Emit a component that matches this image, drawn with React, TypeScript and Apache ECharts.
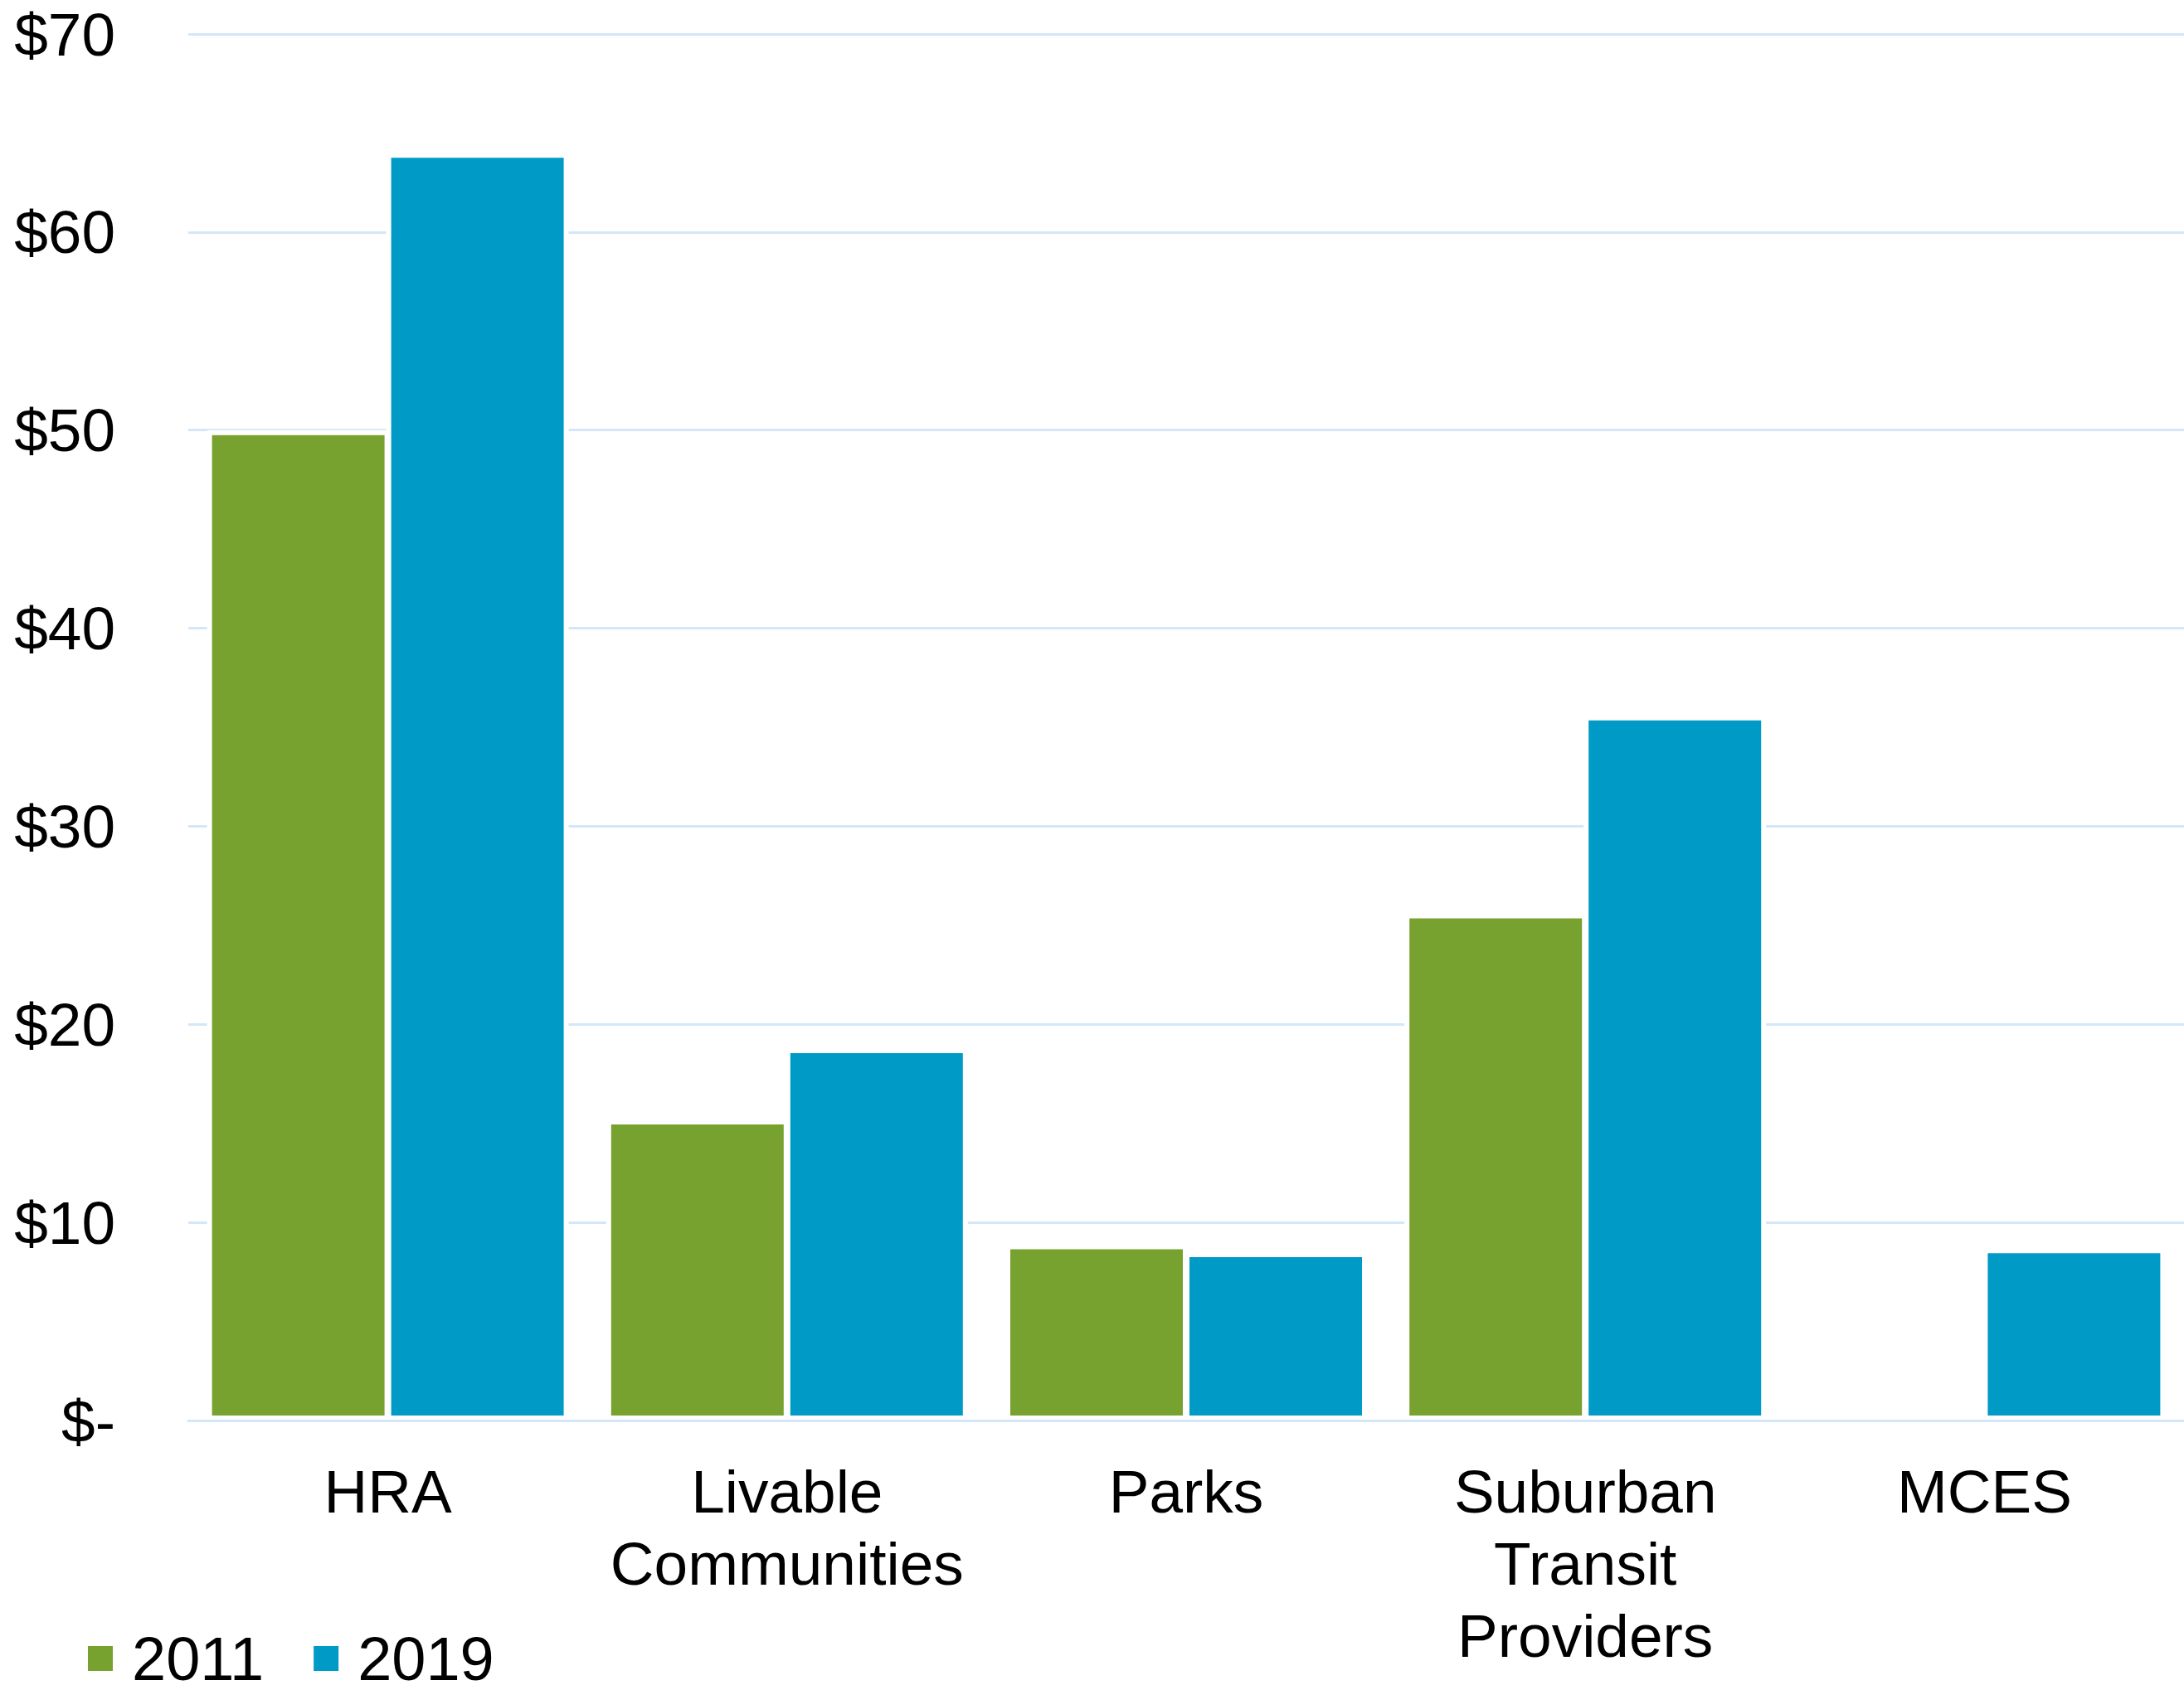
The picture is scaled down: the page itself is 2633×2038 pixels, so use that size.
import React, { useEffect, useRef } from "react";
import * as echarts from "echarts";

const categories = ["HRA", "Livable\nCommunities", "Parks", "Suburban\nTransit\nProviders", "MCES"];
const values2011: (number | null)[] = [50.0, 15.2, 8.9, 25.6, null];
const values2019: number[] = [64.0, 18.8, 8.5, 35.6, 8.7];
const yTicks = { min: 0, max: 70, interval: 10 };

const FONT = "'Liberation Sans', Arial, sans-serif";
const GREEN = "#78A22F";
const BLUE = "#009AC7";
const GRID = "#D3E7F8";

export default function App() {
  const ref = useRef<HTMLDivElement>(null);
  useEffect(() => {
    document.body.style.margin = "0";
    const chart = echarts.init(ref.current!, null, { renderer: "svg" });
    chart.setOption({
      animation: false,
      backgroundColor: "#ffffff",
      textStyle: { fontFamily: FONT },
      grid: { left: 227, right: 0, top: 41, bottom: 325, containLabel: false },
      legend: {
        left: 101,
        top: 1958,
        itemWidth: 30,
        itemHeight: 30,
        itemGap: 60,
        icon: "rect",
        itemStyle: { borderWidth: 0 },
        textStyle: { fontSize: 74, color: "#000", fontFamily: FONT, padding: [0, 0, 0, 18], lineHeight: 60 },
        data: ["2011", "2019"],
      },
      xAxis: {
        type: "category",
        data: categories,
        z: 10,
        axisLine: { show: true, lineStyle: { color: GRID, width: 3 } },
        axisTick: { show: false },
        axisLabel: {
          interval: 0,
          margin: 42,
          fontSize: 73,
          lineHeight: 87,
          color: "#000",
          fontFamily: FONT,
        },
      },
      yAxis: {
        type: "value",
        min: yTicks.min,
        max: yTicks.max,
        interval: yTicks.interval,
        axisLine: { show: false },
        axisTick: { show: false },
        splitLine: { show: true, lineStyle: { color: GRID, width: 3 } },
        axisLabel: {
          margin: 88,
          fontSize: 73,
          color: "#000",
          fontFamily: FONT,
          formatter: (v: number) => (v === 0 ? "$-" : "$" + v),
        },
      },
      series: [
        {
          name: "2011",
          type: "bar",
          data: values2011,
          barWidth: 220,
          barGap: "-1.818%",
          itemStyle: { color: GREEN, borderColor: "#ffffff", borderWidth: 6 },
        },
        {
          name: "2019",
          type: "bar",
          data: values2019,
          barWidth: 220,
          barGap: "-1.818%",
          itemStyle: { color: BLUE, borderColor: "#ffffff", borderWidth: 6 },
        },
      ],
    });
    return () => chart.dispose();
  }, []);
  return <div ref={ref} style={{ position: "absolute", left: 0, top: 0, width: 2633, height: 2038 }} />;
}
